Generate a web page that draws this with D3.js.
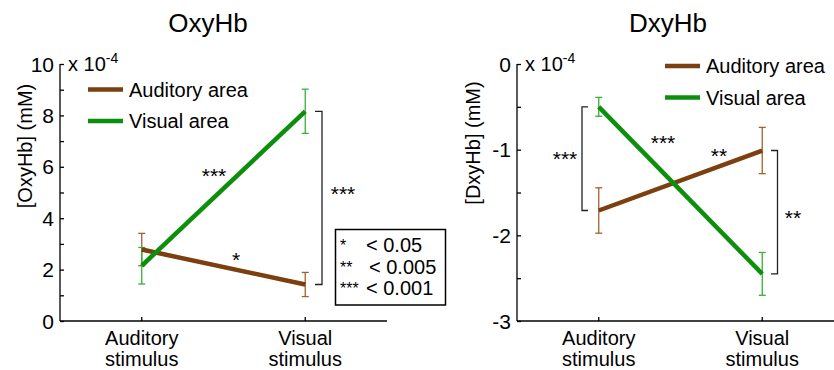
<!DOCTYPE html>
<html>
<head>
<meta charset="utf-8">
<script src="https://cdn.jsdelivr.net/npm/d3@7"></script>
<style>
  body { margin: 0; background: #fff; }
  text { font-family: "Liberation Sans", Arial, sans-serif; fill: #000; }
</style>
</head>
<body>
<div id="container"></div>
<script>
// categories and series (values in units of 1e-4 mM)
const categories = ["Auditory stimulus", "Visual stimulus"];
const seriesNames = ["Auditory area", "Visual area"];

const oxyAuditory = [2.78, 1.42];
const oxyAuditoryErr = [0.63, 0.47];
const oxyVisual = [2.15, 8.16];
const oxyVisualErr = [0.71, 0.86];

const dxyAuditory = [-1.71, -1.01];
const dxyAuditoryErr = [0.265, 0.27];
const dxyVisual = [-0.50, -2.45];
const dxyVisualErr = [0.11, 0.25];

const oxyTicks = [0, 2, 4, 6, 8, 10];
const dxyTicks = [-3, -2, -1, 0];
const sigLabels = [["*", "< 0.05"], ["**", "< 0.005"], ["***", "< 0.001"]];

const brown = "#7b3f10", green = "#0c8f0c";
const brownErr = "#a2622e", greenErr = "#38b038";

const svg = d3.select("#container").append("svg")
  .attr("width", 834).attr("height", 370);

function createPanel(opt) {
  const g = svg.append("g");
  const x = d3.scaleLinear().domain([0.5, 2.5]).range([opt.left, opt.left + 327]);
  const y = d3.scaleLinear().domain(opt.domain).range([321, 64]);

  // title
  g.append("text").attr("x", opt.titleX).attr("y", 32)
    .attr("text-anchor", "middle").style("font-size", "26px").text(opt.title);

  // y axis
  const yAxis = d3.axisLeft(y).tickValues(opt.minor).tickSize(-4).tickFormat("");
  g.append("g").attr("transform", "translate(" + opt.left + ",0)").call(yAxis)
    .call(a => a.selectAll("line,path").attr("stroke", "#000").attr("stroke-width", 1.3))
    .call(a => a.select(".domain").attr("d", "M0," + y(opt.domain[0]) + "V" + y(opt.domain[1])));
  g.selectAll(".ylab").data(opt.ticks).enter().append("text")
    .attr("x", opt.left - 6).attr("y", d => y(d) + 7.5)
    .attr("text-anchor", "end").style("font-size", "21px")
    .text(d => d);

  // x axis
  g.append("line").attr("x1", opt.left).attr("x2", opt.left + 327)
    .attr("y1", 321).attr("y2", 321).attr("stroke", "#000").attr("stroke-width", 1.3);
  g.selectAll(".xt").data([1, 2]).enter().append("line")
    .attr("x1", d => x(d)).attr("x2", d => x(d)).attr("y1", 321).attr("y2", 317)
    .attr("stroke", "#000").attr("stroke-width", 1.3);
  categories.forEach((c, i) => {
    const t = g.append("text").attr("x", x(i + 1)).attr("y", 345)
      .attr("text-anchor", "middle").style("font-size", "20px");
    c.split(" ").forEach((w, j) => {
      t.append("tspan").attr("x", x(i + 1)).attr("dy", j ? 21 : 0).text(w);
    });
  });

  // multiplier
  const m = g.append("text").attr("x", opt.left + 8).attr("y", 71).style("font-size", "20px");
  m.append("tspan").text("x 10");
  m.append("tspan").attr("dy", -8).style("font-size", "14px").text("-4");

  // y label
  g.append("text").attr("transform", "translate(" + opt.ylabX + "," + opt.ylabY + ") rotate(-90)")
    .attr("text-anchor", "middle").style("font-size", "20px").text(opt.ylabel);

  // series
  const line = d3.line().x((d, i) => x(i + 1)).y(d => y(d));
  const series = [
    { v: opt.aud, e: opt.audErr, c: brown, ec: brownErr },
    { v: opt.vis, e: opt.visErr, c: green, ec: greenErr }
  ];
  series.forEach(s => {
    s.v.forEach((v, i) => {
      const cx = x(i + 1);
      const eg = g.append("g").attr("stroke", s.ec).attr("stroke-width", 1.3);
      eg.append("line").attr("x1", cx).attr("x2", cx).attr("y1", y(v - s.e[i])).attr("y2", y(v + s.e[i]));
      [v - s.e[i], v + s.e[i]].forEach(ev => {
        eg.append("line").attr("x1", cx - 3.5).attr("x2", cx + 3.5).attr("y1", y(ev)).attr("y2", y(ev));
      });
    });
  });
  series.forEach(s => {
    g.append("path").datum(s.v).attr("d", line).attr("fill", "none")
      .attr("stroke", s.c).attr("stroke-width", 4.5);
  });

  // legend
  seriesNames.forEach((n, i) => {
    const ly = opt.legY + i * 31.5;
    g.append("line").attr("x1", opt.legX).attr("x2", opt.legX + 35).attr("y1", ly).attr("y2", ly)
      .attr("stroke", series[i].c).attr("stroke-width", 4.5);
    g.append("text").attr("x", opt.legX + 41).attr("y", ly + 7).style("font-size", "20px").text(n);
  });

  // brackets & stars
  opt.brackets.forEach(b => {
    const yt = y(b.v0), yb = y(b.v1);
    g.append("path").attr("fill", "none").attr("stroke", "#222").attr("stroke-width", 1.3)
      .attr("d", "M" + b.x0 + "," + yt + "H" + b.x1 + "V" + yb + "H" + b.x0);
  });
  opt.stars.forEach(s => {
    g.append("text").attr("x", s[0]).attr("y", s[1] + 12).attr("text-anchor", "middle")
      .style("font-size", "21px").text(s[2]);
  });
  return { x, y };
}

createPanel({
  left: 60, domain: [0, 10], ticks: oxyTicks, minor: d3.range(0, 11, 1),
  title: "OxyHb", titleX: 208, ylabel: "[OxyHb] (mM)", ylabX: 32, ylabY: 146,
  aud: oxyAuditory, audErr: oxyAuditoryErr, vis: oxyVisual, visErr: oxyVisualErr,
  legX: 88, legY: 89.5,
  brackets: [{ x0: 315, x1: 322, v0: oxyVisual[1], v1: oxyAuditory[1] }],
  stars: [[343, 189, "***"], [214, 171, "***"], [236, 255, "*"]]
});

createPanel({
  left: 517, domain: [-3, 0], ticks: dxyTicks, minor: d3.range(-3, 0.01, 0.5),
  title: "DxyHb", titleX: 668, ylabel: "[DxyHb] (mM)", ylabX: 480, ylabY: 143,
  aud: dxyAuditory, audErr: dxyAuditoryErr, vis: dxyVisual, visErr: dxyVisualErr,
  legX: 665, legY: 66,
  brackets: [
    { x0: 588, x1: 582, v0: dxyVisual[0], v1: dxyAuditory[0] },
    { x0: 771, x1: 777.5, v0: dxyAuditory[1], v1: dxyVisual[1] }
  ],
  stars: [[565, 154, "***"], [793, 213, "**"], [663, 138, "***"], [719, 151, "**"]]
});

// significance key
const key = svg.append("g");
key.append("rect").attr("x", 335.5).attr("y", 229.5).attr("width", 110).attr("height", 75.5)
  .attr("fill", "#fff").attr("stroke", "#000").attr("stroke-width", 1.5);
sigLabels.forEach((s, i) => {
  const by = 252 + i * 21.5;
  key.append("text").attr("x", 340).attr("y", by - 1).style("font-size", "16px").text(s[0]);
  key.append("text").attr("x", i === 1 ? 369 : 366).attr("y", by).style("font-size", "20px").text(s[1]);
});
</script>
</body>
</html>
